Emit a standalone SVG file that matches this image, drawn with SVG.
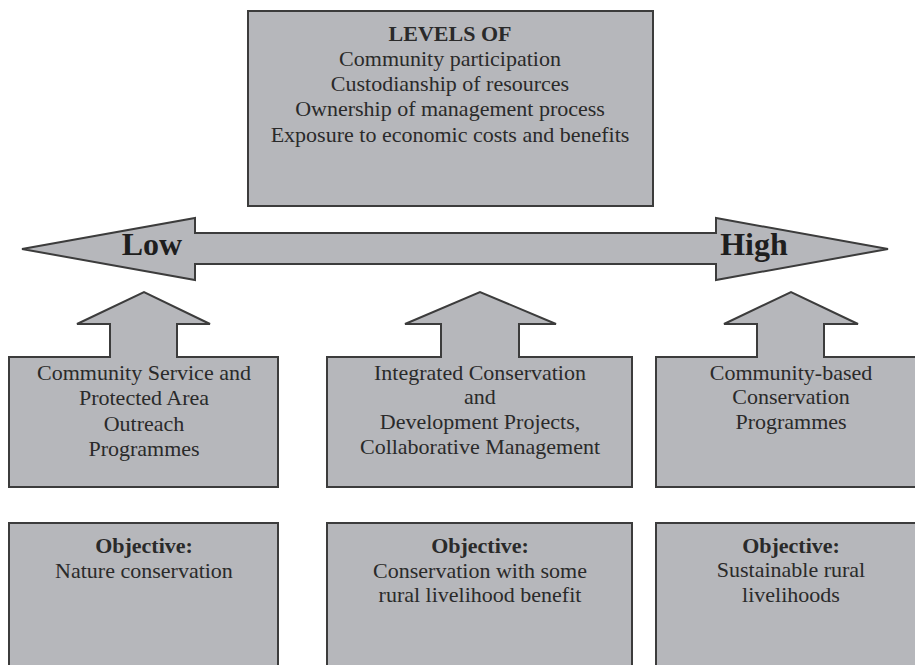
<svg xmlns="http://www.w3.org/2000/svg" width="915" height="665" viewBox="0 0 915 665">
<style>
.shape{fill:#b6b7bb;stroke:#3c3c3c;stroke-width:2;stroke-linejoin:miter}
text{font-family:"Liberation Serif","Times New Roman",serif;font-size:22px;fill:#2a2a2a;text-anchor:middle}
.b{font-weight:bold}
.big{font-weight:bold;font-size:32px;fill:#1e1e1e}
</style>
<rect width="915" height="665" fill="#ffffff"/>
<g id="levels">
<rect class="shape" x="248" y="11" width="405" height="195"/>
<text class="b" x="450" y="40.5">LEVELS OF</text>
<text x="450" y="65.8">Community participation</text>
<text x="450" y="91.1">Custodianship of resources</text>
<text x="450" y="116.4">Ownership of management process</text>
<text x="450" y="141.7">Exposure to economic costs and benefits</text>
</g>
<g id="connectors">
<path id="scale-arrow" class="shape" d="M22,249 L195,218 V233 H716 V218 L888,249 L716,280 V264 H195 V280 Z"/>
<text class="big" x="152" y="255">Low</text>
<text class="big" x="754" y="255">High</text>
</g>
<g id="node-outreach">
<path class="shape" d="M9,357 H110 V324 H77 L144,292 L210,324 H177 V357 H278 V487 H9 Z"/>
<text x="144" y="380">Community Service and</text>
<text x="144" y="405">Protected Area</text>
<text x="144" y="430.5">Outreach</text>
<text x="144" y="456">Programmes</text>
</g>
<g id="node-icdp">
<path class="shape" d="M327,357 H441 V324 H405 L480,292 L556,324 H519 V357 H632 V487 H327 Z"/>
<text x="480" y="380">Integrated Conservation</text>
<text x="480" y="404">and</text>
<text x="480" y="428.5">Development Projects,</text>
<text x="480" y="453.5">Collaborative Management</text>
</g>
<g id="node-cbc">
<path class="shape" d="M656,357 H757 V324 H724 L791,292 L858,324 H824 V357 H926 V487 H656 Z"/>
<text x="791" y="380">Community-based</text>
<text x="791" y="404">Conservation</text>
<text x="791" y="428.5">Programmes</text>
</g>
<g id="objective-1">
<rect class="shape" x="9" y="523" width="269" height="160"/>
<text class="b" x="144" y="552.5">Objective:</text>
<text x="144" y="577.5">Nature conservation</text>
</g>
<g id="objective-2">
<rect class="shape" x="327" y="523" width="305" height="160"/>
<text class="b" x="480" y="552.5">Objective:</text>
<text x="480" y="577.5">Conservation with some</text>
<text x="480" y="602">rural livelihood benefit</text>
</g>
<g id="objective-3">
<rect class="shape" x="656" y="523" width="270" height="160"/>
<text class="b" x="791" y="552.5">Objective:</text>
<text x="791" y="577">Sustainable rural</text>
<text x="791" y="602">livelihoods</text>
</g>
</svg>
